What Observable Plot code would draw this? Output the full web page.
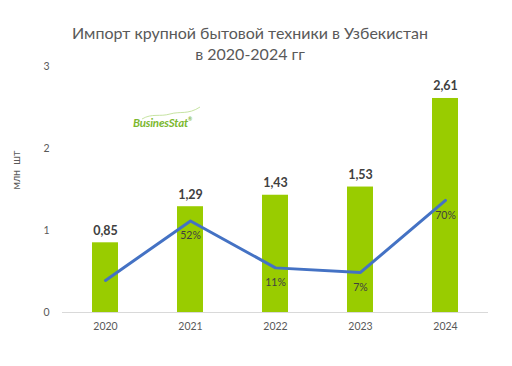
<!DOCTYPE html>
<html>
<head>
<meta charset="utf-8">
<script src="https://cdn.jsdelivr.net/npm/d3@7"></script>
<script src="https://cdn.jsdelivr.net/npm/@observablehq/plot@0.6"></script>
<style>
  html, body { margin: 0; padding: 0; background: #fff; }
  #wrap { position: relative; width: 512px; height: 366px; overflow: hidden; font-family: Lato, "Open Sans", sans-serif; }
  #title { height: 38px; padding-top: 22px; text-align: center; color: #595959; font-size: 16px; line-height: 21px; }
  #title div { width: 512px; margin-left: -6px; }
  #logo { position: absolute; left: 133px; top: 116px; color: #7cb82f; font-weight: bold; font-style: italic; font-size: 11.5px; letter-spacing: -0.2px; }
  #logo sup { font-size: 5px; font-style: normal; vertical-align: 6px; }
  #swoosh { position: absolute; left: 140px; top: 106px; }
</style>
</head>
<body>
<div id="wrap">
  <div id="title"><div>Импорт крупной бытовой техники  в Узбекистан</div><div>в 2020-2024 гг</div></div>
  <div id="chart"></div>
  <svg id="swoosh" width="62" height="16"><path d="M2,13 C12,7 20,11 30,8 C40,5 48,9 60,1" fill="none" stroke="#b8dc8a" stroke-width="0.8"/></svg>
  <div id="logo">BusinesStat<sup>®</sup></div>
</div>
<script>
const years = ["2020", "2021", "2022", "2023", "2024"];
const imports = [0.85, 1.29, 1.43, 1.53, 2.61];
const growth = [0, 52, 11, 7, 70];
const growthLabels = ["", "52%", "11%", "7%", "70%"];
const yTicks = [0, 1, 2, 3];

// hidden secondary axis for growth (%)
const growthAxis = d3.scaleLinear().domain([-28, 187]).range([0, 3]);

const data = years.map((y, i) => ({
  year: y,
  value: imports[i],
  label: imports[i].toFixed(2).replace(".", ","),
  g: growthAxis(growth[i]),
  gLabel: growthLabels[i]
}));

const chart = Plot.plot({
  width: 512,
  height: 306,
  marginTop: 6,
  marginBottom: 54,
  marginLeft: 62,
  marginRight: 24,
  style: { fontFamily: "Lato, 'Open Sans', sans-serif", fontSize: "10px", color: "#595959", background: "#fff" },
  x: { domain: years, paddingInner: 0.695, paddingOuter: 0.35, label: null },
  y: { domain: [0, 3], label: null },
  marks: [
    Plot.barY(data, { x: "year", y: "value", fill: "#99cc00" }),
    Plot.ruleY([0], { stroke: "#d9d9d9", strokeWidth: 1 }),
    Plot.text(data, { x: "year", y: "value", text: "label", dy: -12, fontWeight: "bold", fontSize: 12.5, fill: "#404040" }),
    Plot.line(data, { x: "year", y: "g", stroke: "#4472c4", strokeWidth: 3 }),
    Plot.text(data, { x: "year", y: "g", text: "gLabel", dy: 15, fontSize: 10.5, fill: "#404040" }),
    Plot.axisX({ tickSize: 0, tickPadding: 10, fontSize: 10.5, fill: "#595959", label: null }),
    Plot.axisY({ ticks: yTicks, tickFormat: d3.format("d"), tickSize: 0, tickPadding: 13, fontSize: 10.5, fill: "#595959", label: null }),
    Plot.text(["млн  шт"], { frameAnchor: "left", rotate: -90, dx: -46, fontSize: 10.5, fill: "#595959", style: "letter-spacing: 0.8px" })
  ]
});
document.getElementById("chart").appendChild(chart);
</script>
</body>
</html>
